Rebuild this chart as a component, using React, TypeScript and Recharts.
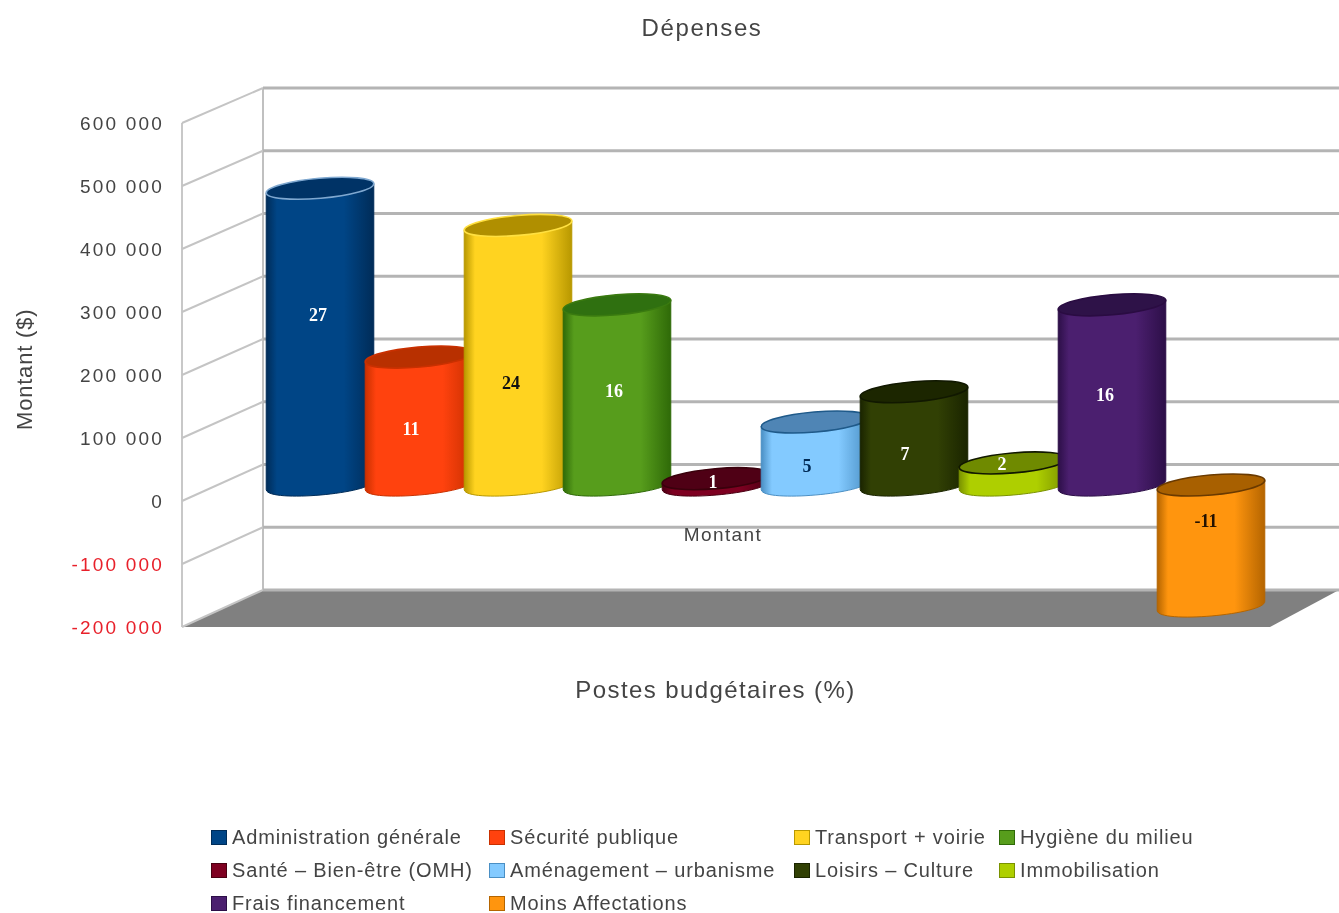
import React from "react";
import { BarChart, Bar, XAxis, YAxis, Legend, ReferenceLine, ReferenceArea, LabelList } from "recharts";

const seriesNames = [
  "Administration générale", "Sécurité publique", "Transport + voirie", "Hygiène du milieu",
  "Santé – Bien-être (OMH)", "Aménagement – urbanisme", "Loisirs – Culture", "Immobilisation",
  "Frais financement", "Moins Affectations",
];
const amounts = [471000, 203000, 412000, 286000, 10000, 100000, 148000, 35000, 286000, -192000];
const percents = [27, 11, 24, 16, 1, 5, 7, 2, 16, -11];
const categories = ["Montant"];
const yTicks = [600000, 500000, 400000, 300000, 200000, 100000, 0, -100000, -200000];

const bodyColors = ["#004586", "#ff420e", "#ffd320", "#579d1c", "#7e0021", "#83caff", "#314004", "#aecf00", "#4b1f6f", "#ff950e"];
const edgeColors = ["#002c58", "#c93000", "#b89800", "#2f6a08", "#4a0012", "#4a8fc4", "#1a2400", "#7a9200", "#2d0f48", "#b56500"];
const topColors = ["#003366", "#b83000", "#b08f00", "#2f7010", "#4f0015", "#4f85b5", "#1c2600", "#6f8a00", "#2e1248", "#a86000"];
const rimColors = ["#7fa8d0", "#c93000", "#ffe040", "#3a7a10", "#3a000c", "#1f5a8a", "#111800", "#111800", "#2a0c42", "#6a3a00"];
const labelColors = ["#ffffff", "#ffffff", "#111111", "#ffffff", "#ffffff", "#002a55", "#ffffff", "#ffffff", "#ffffff", "#221100"];
const labelNudgesY = [-22, 8, 27, -4, 0, 12, 15, -10, 0, -25];
const labelNudgesX = [-2, -8, -7, -3, -3, -8, -9, -11, -7, -5];

const rows = categories.map((name) => {
  const row: Record<string, any> = { name };
  seriesNames.forEach((s, i) => { row[s] = amounts[i]; });
  return row;
});

const LIFT = 16, OVERLAP = 9, RY = 10, TILT = 5, PAD_L = 84, PAD_R = 87;
const sans = "'Liberation Sans', Arial, sans-serif";
const TEXT = "#444444";

function Cylinder(props: any) {
  const { x, y, width, height, idx } = props;
  const top = Math.min(y, y + height) - LIFT;
  const bottom = Math.max(y, y + height) - LIFT;
  const w = width + OVERLAP;
  const cx = x + w / 2;
  const rx = w / 2;
  const rad = (TILT * Math.PI) / 180;
  const dy = rx * Math.sin(rad);
  const dx = rx * Math.cos(rad);
  const l = cx - dx, r = cx + dx;
  const nx = (4 / 3) * RY * Math.sin(rad);
  const ny = (4 / 3) * RY * Math.cos(rad);
  const d = `M${l} ${top + dy} L${l} ${bottom + dy} C${l + nx} ${bottom + dy + ny} ${r + nx} ${bottom - dy + ny} ${r} ${bottom - dy} L${r} ${top - dy} Z`;
  return (
    <g>
      <path d={d} fill={`url(#cyl${idx})`} stroke={edgeColors[idx]} strokeWidth={1} />
      <ellipse cx={cx} cy={top} rx={rx} ry={RY} transform={`rotate(${-TILT} ${cx} ${top})`} fill={topColors[idx]} stroke={rimColors[idx]} strokeWidth={1.6} />
    </g>
  );
}

function PctLabel(props: any) {
  const { x, y, width, height, idx } = props;
  const top = Math.min(y, y + height) - LIFT;
  const bottom = Math.max(y, y + height) - LIFT;
  return (
    <text x={x + (width + OVERLAP) / 2 + labelNudgesX[idx]} y={(top + bottom) / 2 + labelNudgesY[idx]} dy="0.35em" textAnchor="middle"
      fontFamily="'Liberation Serif', serif" fontWeight="bold" fontSize={18} fill={labelColors[idx]}>
      {percents[idx]}
    </text>
  );
}

function backY(y: number) { return 88 + ((y - 123) * 502) / 504; }

function GridLine(props: any) {
  const { x1, x2, y1 } = props;
  const by = backY(y1);
  return (
    <g fill="none">
      <line x1={x1} y1={y1} x2={x1 + 81} y2={by} stroke="#c4c4c4" strokeWidth={2} />
      <line x1={x1 + 81} y1={by} x2={x2} y2={by} stroke="#b4b4b4" strokeWidth={3} />
    </g>
  );
}

function Walls(props: any) {
  const { x, y, width, height } = props;
  const left = x - PAD_L, right = x + width + PAD_R;
  const bottom = y + height;
  const bb = backY(bottom), bt = backY(y);
  return (
    <g>
      <polygon points={`${left},${bottom} ${left + 81},${bb} ${right},${bb} ${right - 69},${bottom}`} fill="#808080" />
      <line x1={left} y1={y} x2={left} y2={bottom} stroke="#c8c8c8" strokeWidth={2} />
      <line x1={left + 81} y1={bt} x2={left + 81} y2={bb} stroke="#c0c0c0" strokeWidth={2} />
    </g>
  );
}

function YTick(props: any) {
  const { y, payload } = props;
  const v = payload.value as number;
  const s = String(Math.abs(v)).replace(/\B(?=(\d{3})+$)/g, " ");
  return (
    <text x={164} y={y} dy="0.35em" textAnchor="end" fontFamily={sans} fontSize={19} letterSpacing={2.2} fill={v < 0 ? "#e8202a" : TEXT}>
      {(v < 0 ? "-" : "") + s}
    </text>
  );
}

function XTick(props: any) {
  const { x, y, payload } = props;
  return (
    <text x={x - 36} y={y - 101} dy="0.35em" textAnchor="middle" fontFamily={sans} fontSize={19} letterSpacing={1.4} fill={TEXT}>
      {payload.value}
    </text>
  );
}

function LegendGrid(props: any) {
  const { payload } = props;
  return (
    <div style={{ display: "grid", gridTemplateColumns: "278px 305px 205px 210px", gridAutoRows: "33px", fontFamily: sans, fontSize: 20, letterSpacing: 0.85, color: TEXT }}>
      {(payload || []).map((p: any, i: number) => {
        const k = seriesNames.indexOf(p.value);
        return (
          <div key={i} style={{ display: "flex", alignItems: "center", whiteSpace: "nowrap" }}>
            <span style={{ display: "inline-block", boxSizing: "border-box", width: 16, height: 15, marginRight: 5, background: bodyColors[k], border: `1.5px solid ${edgeColors[k]}` }} />
            {p.value}
          </div>
        );
      })}
    </div>
  );
}

export default function App() {
  return (
    <div style={{ position: "fixed", left: 0, top: 0, width: 1339, height: 913, overflow: "hidden", background: "#fff", filter: "blur(0.5px)" }}>
      <BarChart width={1339} height={913} data={rows} barCategoryGap={0} barGap={0}
        margin={{ top: 123, right: 0, bottom: 226, left: 0 }}>
        <defs>
          {bodyColors.map((c, i) => (
            <linearGradient key={i} id={`cyl${i}`} x1="0" y1="0" x2="1" y2="0">
              <stop offset="0" stopColor={edgeColors[i]} />
              <stop offset="0.1" stopColor={c} />
              <stop offset="0.72" stopColor={c} />
              <stop offset="1" stopColor={edgeColors[i]} />
            </linearGradient>
          ))}
        </defs>
        <text x={702} y={28} dy="0.35em" textAnchor="middle" fontFamily={sans} fontSize={24} letterSpacing={1.6} fill={TEXT}>Dépenses</text>
        <XAxis dataKey="name" height={60} axisLine={false} tickLine={false} tick={<XTick />} padding={{ left: PAD_L, right: PAD_R }}
          label={{ value: "Postes budgétaires (%)", position: "insideBottom", dx: -45, dy: 16, fontFamily: sans, fontSize: 24, letterSpacing: 1.4, fill: TEXT }} />
        <YAxis width={182} domain={[-200000, 600000]} ticks={yTicks} interval={0} axisLine={false} tickLine={false} tickMargin={0}
          tick={<YTick />} label={{ value: "Montant ($)", angle: -90, position: "insideLeft", dx: 19, dy: 55, fontFamily: sans, fontSize: 22, letterSpacing: 0.8, fill: TEXT }} />
        <ReferenceArea y1={-200000} y2={600000} shape={<Walls />} ifOverflow="visible" zIndex={-60} />
        {yTicks.map((t) => (
          <ReferenceLine key={t} y={t} shape={<GridLine />} zIndex={-50} />
        ))}
        {seriesNames.map((s, i) => (
          <Bar key={s} dataKey={s} name={s} fill={bodyColors[i]} isAnimationActive={false} shape={<Cylinder idx={i} />}>
            <LabelList content={<PctLabel idx={i} />} />
          </Bar>
        ))}
        <Legend content={<LegendGrid />} layout="horizontal" verticalAlign="middle" itemSorter={(item: any) => seriesNames.indexOf(item.value)}
          wrapperStyle={{ left: 211, top: 821, width: 1010 }} />
      </BarChart>
    </div>
  );
}
